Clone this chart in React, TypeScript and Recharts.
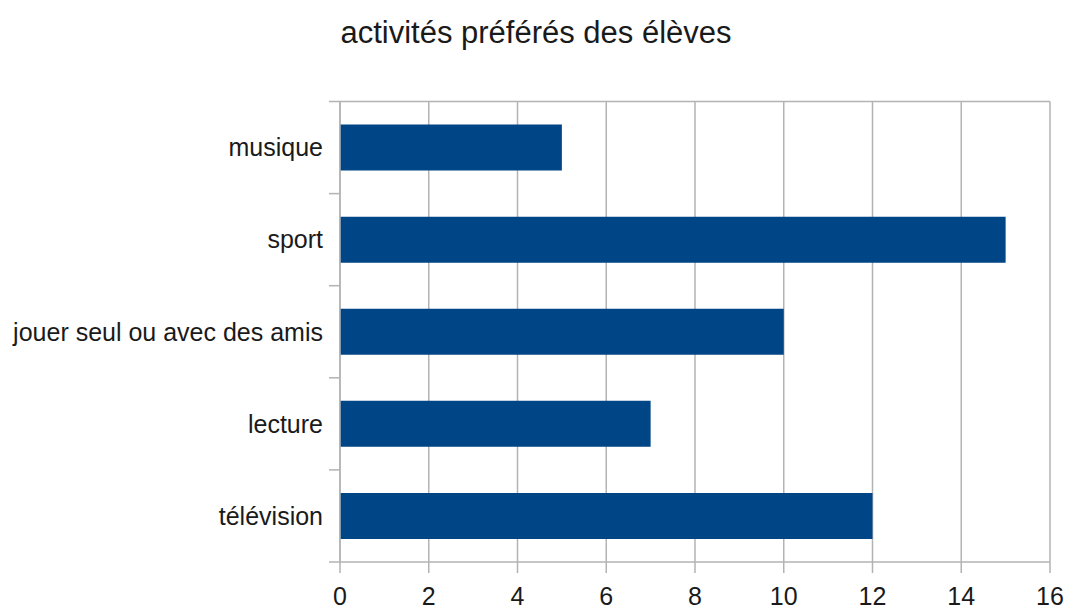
import React from 'react';
import { BarChart, Bar, XAxis, YAxis, CartesianGrid } from 'recharts';

const categories = ['musique', 'sport', 'jouer seul ou avec des amis', 'lecture', 'télévision'];
const values = [5, 15, 10, 7, 12];
const xTicks = [0, 2, 4, 6, 8, 10, 12, 14, 16];
const title = 'activités préférés des élèves';

const data = categories.map((c, i) => ({ name: c, value: values[i] }));

const W = 1069;
const H = 612;
const MARGIN_TOP = 101.5;
const X_AXIS_H = 50;
const Y_AXIS_W = 340;
const MARGIN_RIGHT = 19;
const PLOT_H = H - MARGIN_TOP - X_AXIS_H;
const BAND_HALF = PLOT_H / categories.length / 2;
const GRID = '#b3b3b3';
const FONT = '"Liberation Sans", Arial, sans-serif';

const YTick = (props: any) => {
  const { x, y, payload, index } = props;
  const lx1 = x + 6;
  const lx2 = x + 17;
  return (
    <g>
      <text x={x} y={y} dy="0.35em" textAnchor="end" fill="#1a1a1a" fontSize={25} fontFamily={FONT}>
        {payload.value}
      </text>
      {index === 0 && (
        <line x1={lx1} x2={lx2} y1={y - BAND_HALF} y2={y - BAND_HALF} stroke={GRID} strokeWidth={1.5} />
      )}
      <line x1={lx1} x2={lx2} y1={y + BAND_HALF} y2={y + BAND_HALF} stroke={GRID} strokeWidth={1.5} />
    </g>
  );
};

export default function App() {
  return (
    <div style={{ position: 'absolute', left: 0, top: 0, width: W, height: H, background: '#fff' }}>
      <BarChart
        width={W}
        height={H}
        data={data}
        layout="vertical"
        barCategoryGap="25%"
        margin={{ top: MARGIN_TOP, right: MARGIN_RIGHT, bottom: 0, left: 0 }}
      >
        <text x={536} y={43} textAnchor="middle" fill="#1a1a1a" fontSize={31} fontFamily={FONT}>
          {title}
        </text>
        <CartesianGrid
          stroke={GRID}
          strokeWidth={1.5}
          horizontalCoordinatesGenerator={(p: any) => [p.offset.top]}
        />
        <XAxis
          type="number"
          domain={[0, 16]}
          ticks={xTicks}
          interval={0}
          height={X_AXIS_H}
          stroke={GRID}
          strokeWidth={1.5}
          tickSize={11}
          tickMargin={14}
          tick={{ fill: '#1a1a1a', fontSize: 25, fontFamily: FONT }}
        />
        <YAxis
          type="category"
          dataKey="name"
          width={Y_AXIS_W}
          stroke={GRID}
          strokeWidth={1.5}
          tickLine={false}
          tickSize={11}
          tickMargin={6}
          interval={0}
          tick={<YTick />}
        />
        <Bar dataKey="value" fill="#004586" isAnimationActive={false} />
      </BarChart>
    </div>
  );
}
